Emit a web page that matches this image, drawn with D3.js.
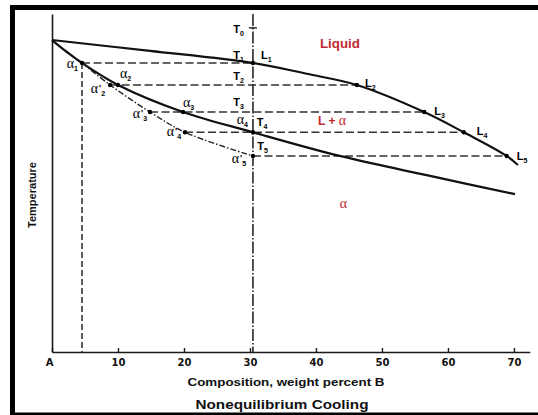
<!DOCTYPE html>
<html>
<head>
<meta charset="utf-8">
<script src="https://cdn.jsdelivr.net/npm/d3@7/dist/d3.min.js"></script>
<style>
  html, body { margin: 0; padding: 0; background: #fff; }
  svg { display: block; }
</style>
</head>
<body>
<svg id="chart" width="538" height="415"></svg>
<script>
// ---------- data ----------
const tickValues = [0, 10, 20, 30, 40, 50, 60, 70];
const tickLabels = ["A", "10", "20", "30", "40", "50", "60", "70"];

// liquidus (composition %B, temperature arbitrary units)
const liquidusC = [0, 14.85, 30.45, 38.6, 46.2, 56.4, 62.4, 68.9, 70.6];
const liquidusT = [92.3, 89.1, 85.5, 82.3, 79.0, 71.0, 65.0, 58.0, 55.3];

// equilibrium solidus
const solidusC = [0, 2.27, 4.55, 10.0, 19.85, 30.45, 43.6, 57.3, 70.15];
const solidusT = [92.3, 88.75, 85.5, 79.0, 71.0, 65.0, 58.0, 52.1, 46.7];

// nonequilibrium (average solid composition) solidus
const noneqC = [4.55, 8.8, 14.85, 20.15, 30.45];
const noneqT = [85.5, 79.0, 71.0, 65.0, 58.0];

// tie lines T1..T5
const tieNames = ["1", "2", "3", "4", "5"];
const tieT = [85.5, 79.0, 71.0, 65.0, 58.0];
const tieStartC = [4.55, 8.8, 14.85, 20.15, 30.45];   // alpha'
const tieEndC = [30.45, 46.2, 56.4, 62.4, 68.9];      // L

// equilibrium alpha points alpha1..alpha4
const alphaC = [4.55, 10.0, 19.85, 30.45];
const alphaT = [85.5, 79.0, 71.0, 65.0];

const alloyC = 30.45;
const startT = 95.9; // T0

// ---------- drawing ----------
const svg = d3.select("#chart");

// frame: thick left & top, thin bottom
svg.append("rect").attr("x", 10).attr("y", 5).attr("width", 528).attr("height", 5).attr("fill", "#000");
svg.append("rect").attr("x", 10).attr("y", 5).attr("width", 5).attr("height", 410).attr("fill", "#000");
svg.append("rect").attr("x", 10).attr("y", 412.5).attr("width", 528).attr("height", 2.5).attr("fill", "#000");

const x = d3.scaleLinear().domain([0, 72.4]).range([52, 529.8]);
const y = d3.scaleLinear().domain([0, 100]).range([352, 14]);

const ink = "#1a1a1a";
const sans = "'Liberation Sans', Arial, sans-serif";
const serif = "'Liberation Serif', 'Times New Roman', serif";
const red = "#c0282f";

// x axis
const xAxis = d3.axisBottom(x)
  .tickValues(tickValues)
  .tickFormat((d, i) => tickLabels[i])
  .tickSizeInner(-4).tickSizeOuter(0).tickPadding(7);
const gx = svg.append("g").attr("transform", `translate(0,${y(0)})`).call(xAxis);
gx.select(".domain").attr("stroke", ink).attr("stroke-width", 1.6);
gx.selectAll(".tick line").attr("stroke", ink).attr("stroke-width", 1.4);
gx.selectAll(".tick text")
  .attr("fill", "#111")
  .style("font-family", "'DejaVu Sans', sans-serif")
  .style("font-weight", "bold")
  .style("font-size", "10px")
  .attr("dx", d => d === 0 ? -3 : 0);

// y axis (no ticks)
const yAxis = d3.axisLeft(y).tickValues([]).tickSizeOuter(0);
const gy = svg.append("g").attr("transform", `translate(${x(0)},0)`).call(yAxis);
gy.select(".domain").attr("stroke", ink).attr("stroke-width", 1.6);

// axis titles
svg.append("text")
  .attr("x", 286).attr("y", 386)
  .attr("text-anchor", "middle")
  .attr("textLength", 197).attr("lengthAdjust", "spacingAndGlyphs")
  .style("font-family", sans).style("font-weight", "bold").style("font-size", "11.5px")
  .attr("fill", "#111")
  .text("Composition, weight percent B");

svg.append("text")
  .attr("x", 282).attr("y", 408.5)
  .attr("text-anchor", "middle")
  .attr("textLength", 173).attr("lengthAdjust", "spacingAndGlyphs")
  .style("font-family", sans).style("font-weight", "bold").style("font-size", "12px")
  .attr("fill", "#111")
  .text("Nonequilibrium Cooling");

svg.append("text")
  .attr("transform", "translate(36,195) rotate(-90)")
  .attr("text-anchor", "middle")
  .attr("textLength", 66).attr("lengthAdjust", "spacingAndGlyphs")
  .style("font-family", sans).style("font-weight", "bold").style("font-size", "11px")
  .attr("fill", "#111")
  .text("Temperature");

// vertical dashed line from alpha1 down to axis
svg.append("line")
  .attr("x1", x(alphaC[0])).attr("x2", x(alphaC[0]))
  .attr("y1", y(alphaT[0])).attr("y2", y(0))
  .attr("stroke", ink).attr("stroke-width", 1.4)
  .attr("stroke-dasharray", "6,3");

// tie lines
svg.append("g").selectAll("line").data(tieT).join("line")
  .attr("x1", (d, i) => x(tieStartC[i]))
  .attr("x2", (d, i) => x(tieEndC[i]))
  .attr("y1", d => y(d)).attr("y2", d => y(d))
  .attr("stroke", "#333").attr("stroke-width", 1.4)
  .attr("stroke-dasharray", "8,3.5");

// alloy vertical line
svg.append("line")
  .attr("x1", x(alloyC)).attr("x2", x(alloyC))
  .attr("y1", y(100)).attr("y2", y(0))
  .attr("stroke", ink).attr("stroke-width", 1.5)
  .attr("stroke-dasharray", "12,2,1.5,2");

// T0 tick
svg.append("line")
  .attr("x1", x(alloyC) - 4).attr("x2", x(alloyC) + 4)
  .attr("y1", y(startT)).attr("y2", y(startT))
  .attr("stroke", ink).attr("stroke-width", 1.4);

const line = d3.line().x(d => x(d[0])).y(d => y(d[1])).curve(d3.curveCatmullRom.alpha(0.5));

// liquidus
svg.append("path")
  .datum(liquidusC.map((c, i) => [c, liquidusT[i]]))
  .attr("d", line).attr("fill", "none")
  .attr("stroke", "#111").attr("stroke-width", 2.1);

// solidus
svg.append("path")
  .datum(solidusC.map((c, i) => [c, solidusT[i]]))
  .attr("d", line).attr("fill", "none")
  .attr("stroke", "#111").attr("stroke-width", 2.3);

// nonequilibrium solidus
svg.append("path")
  .datum(noneqC.map((c, i) => [c, noneqT[i]]))
  .attr("d", line).attr("fill", "none")
  .attr("stroke", "#222").attr("stroke-width", 1.4)
  .attr("stroke-dasharray", "6,2,1.5,2");

// dots
const dots = []
  .concat(alphaC.map((c, i) => [c, alphaT[i]]))
  .concat(noneqC.slice(1).map((c, i) => [c, noneqT[i + 1]]))
  .concat(tieEndC.map((c, i) => [c, tieT[i]]));
svg.append("g").selectAll("circle").data(dots).join("circle")
  .attr("cx", d => x(d[0])).attr("cy", d => y(d[1]))
  .attr("r", 2.2).attr("fill", "#000");

// ---------- labels ----------
function label(px, py, main, sub, opts) {
  opts = opts || {};
  const t = svg.append("text")
    .attr("x", px).attr("y", py)
    .attr("fill", opts.fill || "#000")
    .style("font-family", opts.serif ? serif : sans)
    .style("font-weight", opts.serif ? "normal" : "bold")
    .style("font-size", (opts.size || 11) + "px");
  t.append("tspan").text(main);
  if (opts.prime) {
    t.append("tspan").attr("dx", 1).attr("dy", -2)
      .style("font-family", sans).style("font-weight", "bold").style("font-size", "9px").text("'");
  }
  if (sub !== undefined) {
    t.append("tspan")
      .attr("dy", opts.prime ? 5 : 3)
      .style("font-family", sans).style("font-weight", "bold")
      .style("font-size", "7px").text(sub);
  }
  return t;
}

const ax = x(alloyC);
// T labels
label(ax - 19.7, y(startT) + 5.6, "T", "0");
tieT.forEach((t, i) => {
  if (i < 3) label(ax - 19.7, y(t) + (i === 0 ? -4.5 : i === 1 ? -5 : -6), "T", tieNames[i]);
});
label(ax + 3.7, y(tieT[3]) - 6.3, "T", "4");
label(ax + 4.3, y(tieT[4]) - 6, "T", "5");

// L labels
const lOff = [[8, -4.5], [8, 2.5], [10, 3], [13, 2.7], [10, 4]];
tieEndC.forEach((c, i) => label(x(c) + lOff[i][0], y(tieT[i]) + lOff[i][1], "L", tieNames[i]));

// alpha labels
const aOff = [[-15.3, 5.3], [2, -6.7], [0, -5.3], [-16.3, -8.3]];
alphaC.forEach((c, i) => label(x(c) + aOff[i][0], y(alphaT[i]) + aOff[i][1], "α", tieNames[i], {serif: true, size: 14}));

// alpha' labels
const pOff = [[-19.4, 8.3], [-17.3, 6.3], [-18.3, 3.7], [-21.3, 7.3]];
noneqC.slice(1).forEach((c, i) => label(x(c) + pOff[i][0], y(noneqT[i + 1]) + pOff[i][1], "α", tieNames[i + 1], {serif: true, size: 14, prime: true}));

// region labels
svg.append("text").attr("x", x(40.6)).attr("y", y(89.8))
  .attr("textLength", 40).attr("lengthAdjust", "spacingAndGlyphs")
  .attr("fill", red).style("font-family", sans).style("font-weight", "bold").style("font-size", "12.5px")
  .text("Liquid");

const la = svg.append("text").attr("x", x(40.3)).attr("y", y(67.2))
  .attr("fill", red).style("font-family", sans).style("font-weight", "bold").style("font-size", "12px");
la.append("tspan").text("L + ");
la.append("tspan").style("font-family", serif).style("font-weight", "normal").style("font-size", "14px").text("α");

svg.append("text").attr("x", x(43.6)).attr("y", y(42.5))
  .attr("fill", red).style("font-family", serif).style("font-size", "14px")
  .text("α");
</script>
</body>
</html>
